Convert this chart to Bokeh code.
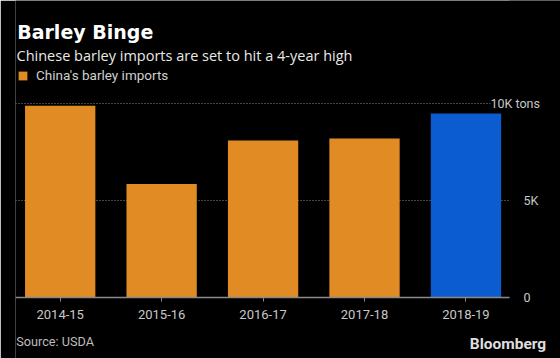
from bokeh.plotting import figure
from bokeh.models import (Range1d, FixedTicker, Label, Legend, LegendItem,
                          ColumnDataSource, BoxAnnotation)
from bokeh.embed import file_html
from bokeh.resources import INLINE

# ---- data ----
seasons = ["2014-15", "2015-16", "2016-17", "2017-18", "2018-19"]
imports_tons_k = [9900, 5850, 8100, 8200, 9500]
is_forecast = [False, False, False, False, True]
y_ticks = [0, 5000, 10000]
y_tick_labels = ["0", "5K", "10K tons"]

ORANGE = "#e18b25"
BLUE = "#0b5bd1"
colors = [BLUE if f else ORANGE for f in is_forecast]
xs = list(range(len(seasons)))
source = ColumnDataSource(dict(x=xs, top=imports_tons_k, season=seasons, color=colors))

# plotting extents (data units)
X_START, X_END, PLOT_X_END = -0.4406, 4.932, 4.429
Y_START, Y_END = -3170, 15341

p = figure(width=560, height=358, output_backend="svg", toolbar_location=None,
           x_range=Range1d(X_START, X_END), y_range=Range1d(Y_START, Y_END),
           min_border_left=15, min_border_right=0, min_border_top=0, min_border_bottom=0,
           background_fill_color="black", border_fill_color="black",
           outline_line_color=None, y_axis_location="right")

r = p.vbar(x="x", top="top", width=0.693, fill_color="color", line_color=None,
           source=source)

# x axis at y = 0
p.xaxis.fixed_location = 0
p.xaxis.bounds = (X_START, PLOT_X_END)
p.xaxis.ticker = FixedTicker(ticks=xs)
p.xaxis.major_label_overrides = {i: s for i, s in zip(xs, seasons)}
p.xaxis.axis_line_color = "#8a8a8a"
p.xaxis.axis_line_width = 1.5
p.xaxis.major_tick_line_color = "#8a8a8a"
p.xaxis.major_tick_out = 4
p.xaxis.major_tick_in = 0
p.xaxis.minor_tick_line_color = None
p.xaxis.major_label_standoff = 9
p.xaxis.major_label_text_font = "Roboto"
p.xaxis.major_label_text_font_size = "13px"
p.xaxis.major_label_text_color = "#c8c8c8"

# y axis at right edge of plotting area
p.yaxis.fixed_location = PLOT_X_END
p.yaxis.ticker = FixedTicker(ticks=y_ticks)
p.yaxis.major_label_overrides = {t: (lab if t != y_ticks[-1] else "")
                                 for t, lab in zip(y_ticks, y_tick_labels)}
p.yaxis.axis_line_color = None
p.yaxis.major_tick_line_color = None
p.yaxis.minor_tick_line_color = None
p.yaxis.major_label_standoff = 8
p.yaxis.major_label_text_font = "Roboto"
p.yaxis.major_label_text_font_size = "12.5px"
p.yaxis.major_label_text_color = "#c8c8c8"

# grid
p.xgrid.visible = False
p.ygrid.ticker = FixedTicker(ticks=y_ticks[1:])
p.ygrid.grid_line_color = "#8c8c8c"
p.ygrid.grid_line_dash = "1 2"
p.ygrid.grid_line_width = 1

# mask grid beyond plotting area
p.add_layout(BoxAnnotation(left=PLOT_X_END, fill_color="black", fill_alpha=1,
                           line_color=None, level="glyph"))

# top tick label with unit
p.add_layout(Label(x=475, y=y_ticks[-1], x_units="screen", y_units="data",
                   text=y_tick_labels[-1], text_font="Roboto", text_font_size="12.5px",
                   text_color="#c8c8c8", text_baseline="middle",
                   background_fill_color="black"))

# legend
legend = Legend(items=[LegendItem(label="China's barley imports", renderers=[r], index=0)],
                location=(2, 275), orientation="horizontal",
                glyph_width=11, glyph_height=11, label_standoff=8,
                padding=0, margin=0, spacing=0, label_height=11,
                label_text_font="Roboto", label_text_font_size="13.5px",
                label_text_color="#cfcfcf", background_fill_alpha=0,
                border_line_color=None)
p.add_layout(legend)

# titles
p.add_layout(Label(x=1.7, y=326.5, x_units="screen", y_units="screen",
                   text="Barley Binge", text_font="DejaVu Sans", text_font_style="bold",
                   text_font_size="19px", text_color="white", text_baseline="alphabetic"))
p.add_layout(Label(x=1, y=303, x_units="screen", y_units="screen",
                   text="Chinese barley imports are set to hit a 4-year high",
                   text_font="Open Sans", text_font_size="14.5px", text_color="#e8e8e8",
                   text_baseline="alphabetic"))

# footer
p.add_layout(Label(x=0.7, y=17.5, x_units="screen", y_units="screen",
                   text="Source: USDA", text_font="Roboto", text_font_size="12.7px",
                   text_color="#bdbdbd", text_baseline="alphabetic"))
p.add_layout(Label(x=530.7, y=15, x_units="screen", y_units="screen",
                   text="Bloomberg", text_font="Roboto", text_font_style="bold",
                   text_font_size="15.5px", text_color="#dedede", text_align="right",
                   text_baseline="alphabetic"))

open("out.html", "w").write(file_html(p, INLINE))
